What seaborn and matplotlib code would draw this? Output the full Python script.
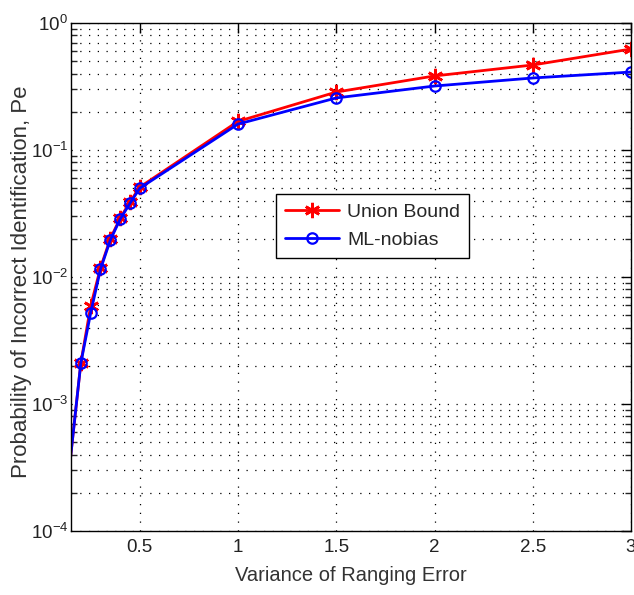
import matplotlib
matplotlib.use("Agg")
import matplotlib.pyplot as plt
import matplotlib.ticker as mticker
import seaborn as sns
import pandas as pd
import numpy as np

# Data
variance = [0.1, 0.2, 0.25, 0.3, 0.35, 0.4, 0.45, 0.5, 1.0, 1.5, 2.0, 2.5, 3.0]
union_bound = [8e-5, 2.1e-3, 5.9e-3, 1.18e-2, 2.0e-2, 2.9e-2, 3.9e-2, 5.1e-2, 0.168, 0.286, 0.383, 0.467, 0.624]
ml_nobias = [8e-5, 2.1e-3, 5.2e-3, 1.15e-2, 1.95e-2, 2.85e-2, 3.8e-2, 5.0e-2, 0.160, 0.257, 0.319, 0.369, 0.411]
x_ticks = [0.5, 1, 1.5, 2, 2.5, 3]
x_ticklabels = ["0.5", "1", "1.5", "2", "2.5", "3"]

sns.set_style("white")
plt.rcParams['font.family'] = ['Liberation Sans', 'DejaVu Sans']
plt.rcParams['mathtext.default'] = 'regular'

df_u = pd.DataFrame({"x": variance, "y": union_bound})
df_m = pd.DataFrame({"x": variance, "y": ml_nobias})

fig = plt.figure(figsize=(6.34, 5.95), dpi=100)
ax = fig.add_axes([71/634, 1-531/595, (631-71)/634, (531-23)/595])

sns.lineplot(data=df_u, x="x", y="y", ax=ax, color="#ff0000", lw=2,
             marker=(6, 2, 0), markersize=11, markeredgewidth=1.9,
             markeredgecolor="#ff0000", label="Union Bound")
sns.lineplot(data=df_m, x="x", y="y", ax=ax, color="#0000ff", lw=2,
             marker="o", markersize=7.5, markeredgewidth=1.6,
             markerfacecolor="none", markeredgecolor="#0000ff", label="ML-nobias")

ax.set_yscale("log")
ax.set_xlim(0.15, 3.0)
ax.set_ylim(1e-4, 1)
ax.set_xticks(x_ticks)
ax.set_xticklabels(x_ticklabels)
ax.yaxis.set_major_locator(mticker.LogLocator(base=10, numticks=10))
ax.yaxis.set_minor_locator(mticker.LogLocator(base=10, subs=np.arange(2, 10), numticks=20))
ax.yaxis.set_minor_formatter(mticker.NullFormatter())

grid_kw = dict(color="black", linestyle=(0, (1, 6)), linewidth=0.9)
ax.grid(True, which="major", axis="both", **grid_kw)
ax.grid(True, which="minor", axis="y", **grid_kw)

for s in ax.spines.values():
    s.set_color("black")
    s.set_linewidth(1.0)

ax.tick_params(axis="both", which="major", direction="in", length=7, width=1,
               top=True, right=True, labelsize=13.5, colors="black", pad=6)
ax.tick_params(axis="x", which="major", labelcolor="#222222")
ax.tick_params(axis="y", which="major", labelcolor="#222222", pad=2)
ax.tick_params(axis="y", which="minor", direction="in", length=4, width=1,
               left=True, right=True)
ax.tick_params(axis="x", which="minor", bottom=False, top=False)

ax.set_xlabel("Variance of Ranging Error", fontsize=14.5, color="#333333", labelpad=7)
ax.set_ylabel("Probability of Incorrect Identification, Pe", fontsize=16, color="#333333")
ax.yaxis.set_label_coords(-0.07, 0.49)

leg = ax.legend(loc="upper left", bbox_to_anchor=(0.366, 0.663), fontsize=14,
                frameon=True, fancybox=False, edgecolor="black", framealpha=1,
                borderaxespad=0, handlelength=2.8, handletextpad=0.4,
                borderpad=0.45, labelspacing=0.55)
leg.get_frame().set_linewidth(1.0)

fig.savefig("out.png", dpi=100)
